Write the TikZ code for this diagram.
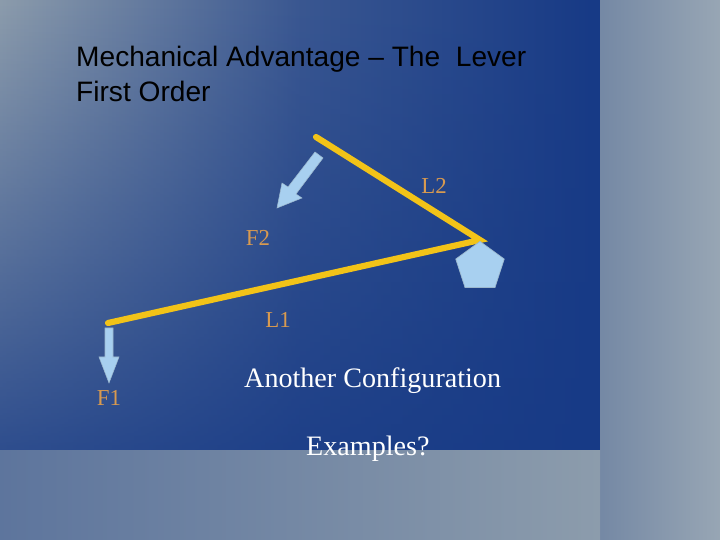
\documentclass[tikz,border=0pt]{standalone}
\usepackage{fontspec}
\setmainfont{Liberation Serif}
\newfontfamily\arialf{Liberation Sans}
\usetikzlibrary{shapes.geometric,arrows.meta,fadings}
\definecolor{bgray}{HTML}{8C9CAC}
\definecolor{bblue}{HTML}{173A86}
\definecolor{lev}{HTML}{F2C318}
\definecolor{arr}{HTML}{A8D0F0}
\definecolor{lab}{HTML}{D89A50}
\tikzset{lever/.style={lev,line width=3.5pt,line cap=round},
 farrow/.style={arr,draw=arr!70!gray,line width=0.3pt},
 lbl/.style={lab,font=\fontsize{13}{15}\selectfont},
 txt/.style={white,font=\fontsize{16}{19}\selectfont,anchor=west}}
\begin{document}
\begin{tikzpicture}[x=0.02cm,y=-0.02cm]
\useasboundingbox (0,0) rectangle (720,540);
\shade[left color=bgray,right color=bblue,middle color=bblue!70!bgray] (0,0) rectangle (600,450);
\fill[bblue,path fading=north,opacity=0.8] (0,0) rectangle (600,450);
\shade[left color=bgray!80!bblue,right color=bgray!90!white] (600,0) rectangle (720,540);
\shade[left color=bgray!60!bblue,right color=bgray] (0,450) rectangle (600,540);
\node[anchor=west,font=\arialf\fontsize{16}{20}\selectfont,align=left] (t) at (70,74) {Mechanical Advantage – The\ \ Lever\\First Order};
\coordinate (a) at (316,137);
\coordinate (p) at (480,240);
\coordinate (b) at (108,323);
\draw[lever] (a) -- (p) -- (b);
\node[regular polygon,regular polygon sides=5,fill=arr,draw=arr!70!gray,minimum size=29pt,inner sep=0pt,anchor=north] (piv) at (480,241) {};
\draw[farrow,fill=arr] (315,152) -- (323,158) -- (296,194) -- (302,198) -- (277,208) -- (282,183) -- (288,187) -- cycle;
\draw[farrow,fill=arr] (105,328) -- (113,328) -- (113,357) -- (119,357) -- (109,383) -- (99,357) -- (105,357) -- cycle;
\node[lbl] (l2) at (434,186) {L2};
\node[lbl] (f2) at (258,238) {F2};
\node[lbl] (l1) at (278,320) {L1};
\node[lbl] (f1) at (109,398) {F1};
\node[txt] (ac) at (238,381) {Another Configuration};
\node[txt] (ex) at (300,449) {Examples?};
\end{tikzpicture}
\end{document}
